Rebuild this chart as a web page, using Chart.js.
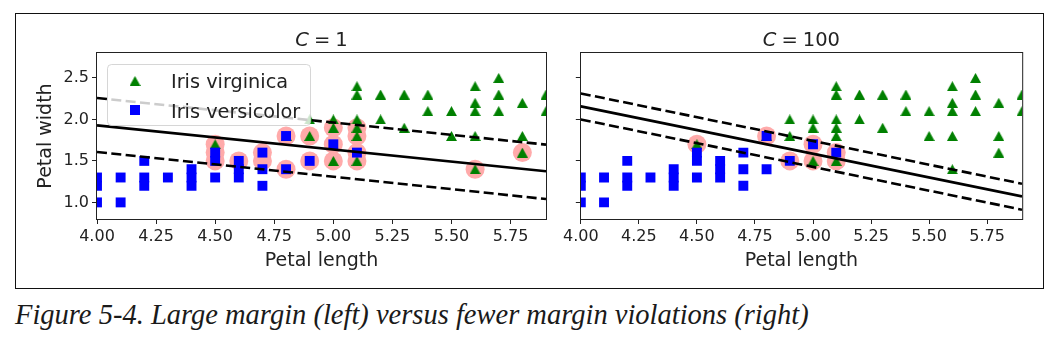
<!DOCTYPE html>
<html>
<head>
<meta charset="utf-8">
<script src="https://cdn.jsdelivr.net/npm/chart.js@4.4.0/dist/chart.umd.min.js"></script>
<style>
  html, body { margin: 0; padding: 0; background: #fff; }
  body { width: 1055px; height: 346px; position: relative; overflow: hidden; }
  #frame { position: absolute; left: 15px; top: 13px; width: 1027px; height: 274px; border: 1px solid #111; }
  .panel { position: absolute; top: 14px; }
  #left { left: 16px; }
  #right { left: 560px; }
  #caption { position: absolute; left: 15px; top: 301px; font: italic 28.5px 'Liberation Serif', serif; line-height: 1; color: #1a1a1a; white-space: nowrap; }
</style>
</head>
<body>
<div id="frame"></div>
<canvas id="left" class="panel" width="540" height="272"></canvas>
<canvas id="right" class="panel" width="474" height="272"></canvas>
<div id="caption">Figure 5-4. Large margin (left) versus fewer margin violations (right)</div>
<script>
// iris petal length / width, only the part inside the axes
const virginicaLength = [5.1, 5.9, 5.6, 5.8, 4.5, 5.8, 5.1, 5.3, 5.5, 5.0, 5.1, 5.3, 5.5, 5.0, 5.7, 4.9, 4.9, 5.7, 4.8, 5.6,
  5.8, 5.6, 5.1, 5.6, 5.6, 5.4, 5.1, 5.9, 5.7, 5.2, 5.0, 5.2, 5.4, 5.1];
const virginicaWidth = [1.9, 2.1, 1.8, 2.2, 1.7, 1.8, 2.0, 1.9, 2.1, 2.0, 2.4, 2.3, 1.8, 1.5, 2.3, 2.0, 1.8, 2.1, 1.8, 2.1,
  1.6, 2.2, 1.5, 1.4, 2.4, 2.1, 2.3, 2.3, 2.5, 2.3, 1.9, 2.0, 2.3, 1.8];
const versicolorLength = [4.7, 4.5, 4.9, 4.0, 4.6, 4.5, 4.7, 4.6, 4.2, 4.0, 4.4, 4.1, 4.8, 4.7, 4.3, 4.8, 5.0, 5.1, 4.5, 4.4,
  4.1, 4.4, 4.6, 4.0, 4.2, 4.2];
const versicolorWidth = [1.4, 1.5, 1.5, 1.3, 1.5, 1.3, 1.6, 1.3, 1.5, 1.0, 1.4, 1.0, 1.8, 1.2, 1.3, 1.4, 1.7, 1.6, 1.6, 1.3,
  1.3, 1.2, 1.4, 1.2, 1.3, 1.2];

// support vectors for each model
const svLengthC1 = [4.5, 4.5, 4.5, 4.6, 4.7, 4.7, 4.8, 4.8, 4.9, 4.9, 5.0, 5.0, 5.0, 5.1, 5.1, 5.1, 5.1, 5.6, 5.8];
const svWidthC1 = [1.5, 1.6, 1.7, 1.5, 1.5, 1.6, 1.4, 1.8, 1.5, 1.8, 1.5, 1.7, 1.9, 1.5, 1.6, 1.8, 1.9, 1.4, 1.6];
const svLengthC100 = [4.5, 4.8, 4.9, 5.0, 5.0, 5.1, 5.1];
const svWidthC100 = [1.7, 1.8, 1.5, 1.7, 1.5, 1.6, 1.5];

// decision boundary and gutters, at x = 4.0 and x = 5.9
const lineX = [4.0, 5.9];
const boundaryC1 = [1.928, 1.375];
const gutterUpC1 = [2.258, 1.696];
const gutterDownC1 = [1.608, 1.04];
const boundaryC100 = [2.157, 1.072];
const gutterUpC100 = [2.313, 1.225];
const gutterDownC100 = [2.0, 0.912];

const xTicks = [4.0, 4.25, 4.5, 4.75, 5.0, 5.25, 5.5, 5.75];
const yTicks = [1.0, 1.5, 2.0, 2.5];
const seriesLabels = ['Iris virginica', 'Iris versicolor'];

const FONT = '"DejaVu Sans", sans-serif';
const INK = '#222';

function pts(xs, ys) {
  return xs.map((x, i) => ({ x: x, y: ys[i] }));
}

// matplotlib style "^" marker
function triangleMarker(w, h, color) {
  const c = document.createElement('canvas');
  c.width = w; c.height = h;
  const g = c.getContext('2d');
  g.fillStyle = color;
  g.beginPath();
  g.moveTo(w / 2, 0);
  g.lineTo(w, h);
  g.lineTo(0, h);
  g.closePath();
  g.fill();
  return c;
}
const tri = triangleMarker(11, 10, '#008000');

function line(ys, dash) {
  return {
    data: pts(lineX, ys), showLine: true, pointRadius: 0, pointHoverRadius: 0,
    borderColor: '#000', borderWidth: 2.6, borderDash: dash, order: 0, clip: 0
  };
}

// full box round the axes
const frame = {
  id: 'frame',
  afterDatasetsDraw(chart) {
    const { ctx, chartArea: a } = chart;
    ctx.save();
    ctx.strokeStyle = INK;
    ctx.lineWidth = 1;
    ctx.strokeRect(Math.round(a.left) - 0.5, Math.round(a.top) - 0.5, a.right - a.left + 1, a.bottom - a.top + 1);
    ctx.restore();
  }
};

// "C = 1" with an italic C, like mathtext
const mathTitle = {
  id: 'mathTitle',
  afterDraw(chart, args, o) {
    const { ctx, chartArea: a } = chart;
    ctx.save();
    ctx.fillStyle = INK;
    ctx.textBaseline = 'alphabetic';
    const italic = 'italic 19.5px ' + FONT;
    const upright = '19.5px ' + FONT;
    ctx.font = italic;
    const wC = ctx.measureText('C').width;
    ctx.font = upright;
    const wEq = ctx.measureText('=').width;
    const wN = ctx.measureText(o.value).width;
    const gap = 5;
    let x = (a.left + a.right) / 2 - (wC + wEq + wN + 2 * gap) / 2;
    const y = o.baseline;
    ctx.font = italic;
    ctx.fillText('C', x, y);
    x += wC + gap;
    ctx.font = upright;
    ctx.fillText('=', x, y);
    x += wEq + gap;
    ctx.fillText(o.value, x, y);
    ctx.restore();
  }
};

// legend inside the left axes, semi transparent box
const boxLegend = {
  id: 'boxLegend',
  afterDatasetsDraw(chart, args, o) {
    if (!o.show) return;
    const { ctx, chartArea: a } = chart;
    const x0 = a.left + 10, y0 = a.top + 11, w = 203, h = 61, r = 4;
    ctx.save();
    ctx.beginPath();
    ctx.roundRect(x0 + 0.5, y0 + 0.5, w, h, r);
    ctx.fillStyle = 'rgba(255,255,255,0.8)';
    ctx.fill();
    ctx.strokeStyle = 'rgba(204,204,204,0.8)';
    ctx.lineWidth = 1;
    ctx.stroke();
    ctx.drawImage(tri, a.left + 38 - 5.5, a.top + 28 - 5);
    ctx.fillStyle = '#0000ff';
    ctx.fillRect(a.left + 38 - 5, a.top + 57 - 5, 10, 10);
    ctx.fillStyle = INK;
    ctx.font = '19.3px ' + FONT;
    ctx.textBaseline = 'alphabetic';
    ctx.fillText(seriesLabels[0], a.left + 74, a.top + 35.3);
    ctx.fillText(seriesLabels[1], a.left + 74, a.top + 65.3);
    ctx.restore();
  }
};

function makeChart(id, cfg) {
  return new Chart(document.getElementById(id), {
    type: 'scatter',
    data: {
      datasets: [
        line(cfg.boundary, []),
        line(cfg.up, [10, 4.4]),
        line(cfg.down, [10, 4.4]),
        { label: seriesLabels[1], data: pts(versicolorLength, versicolorWidth), pointStyle: 'rect', pointRadius: 7,
          pointHoverRadius: 7, backgroundColor: '#0000ff', borderWidth: 0, order: 1, clip: 0 },
        { label: seriesLabels[0], data: pts(virginicaLength, virginicaWidth), pointStyle: tri,
          order: 2, clip: 0 },
        { data: pts(cfg.svX, cfg.svY), pointStyle: 'circle', pointRadius: 9.5, pointHoverRadius: 9.5,
          backgroundColor: '#ffaaaa', borderWidth: 0, order: 3, clip: 0 }
      ]
    },
    options: {
      responsive: false,
      animation: false,
      events: [],
      layout: { padding: { top: 39, right: cfg.padRight, bottom: 0, left: 0 } },
      scales: {
        x: {
          type: 'linear', min: 4.0, max: 5.9,
          afterBuildTicks: s => { s.ticks = xTicks.map(v => ({ value: v })); },
          afterFit: s => { s.height = 67; },
          ticks: { callback: v => v.toFixed(2), color: INK, padding: 3, maxRotation: 0, autoSkip: false,
            font: { family: FONT, size: 16 } },
          grid: { display: true, drawOnChartArea: false, drawTicks: true, tickLength: 5, color: INK },
          border: { display: false },
          title: { display: true, text: 'Petal length', color: INK, font: { family: FONT, size: 19 },
            padding: { top: 0, bottom: 13.5 } }
        },
        y: {
          type: 'linear', min: 0.8, max: 2.8,
          afterBuildTicks: s => { s.ticks = yTicks.map(v => ({ value: v })); },
          afterFit: s => { s.width = cfg.yWidth; },
          ticks: { display: cfg.yLabels, callback: v => v.toFixed(1), color: INK, padding: 3,
            font: { family: FONT, size: 16 } },
          grid: { display: true, drawOnChartArea: false, drawTicks: true, tickLength: 5, color: INK },
          border: { display: false },
          title: { display: cfg.yLabels, text: 'Petal width', color: INK, font: { family: FONT, size: 19 },
            padding: { top: 18.7, bottom: 0 } }
        }
      },
      plugins: {
        legend: { display: false },
        tooltip: { enabled: false },
        mathTitle: { value: cfg.c, baseline: 32 },
        boxLegend: { show: cfg.legend }
      }
    },
    plugins: [frame, boxLegend, mathTitle]
  });
}

makeChart('left', {
  boundary: boundaryC1, up: gutterUpC1, down: gutterDownC1, svX: svLengthC1, svY: svWidthC1,
  c: '1', padRight: 10, yWidth: 81, yLabels: true, legend: true
});
makeChart('right', {
  boundary: boundaryC100, up: gutterUpC100, down: gutterDownC100, svX: svLengthC100, svY: svWidthC100,
  c: '100', padRight: 12, yWidth: 14, yLabels: false, legend: false
});
</script>
</body>
</html>
